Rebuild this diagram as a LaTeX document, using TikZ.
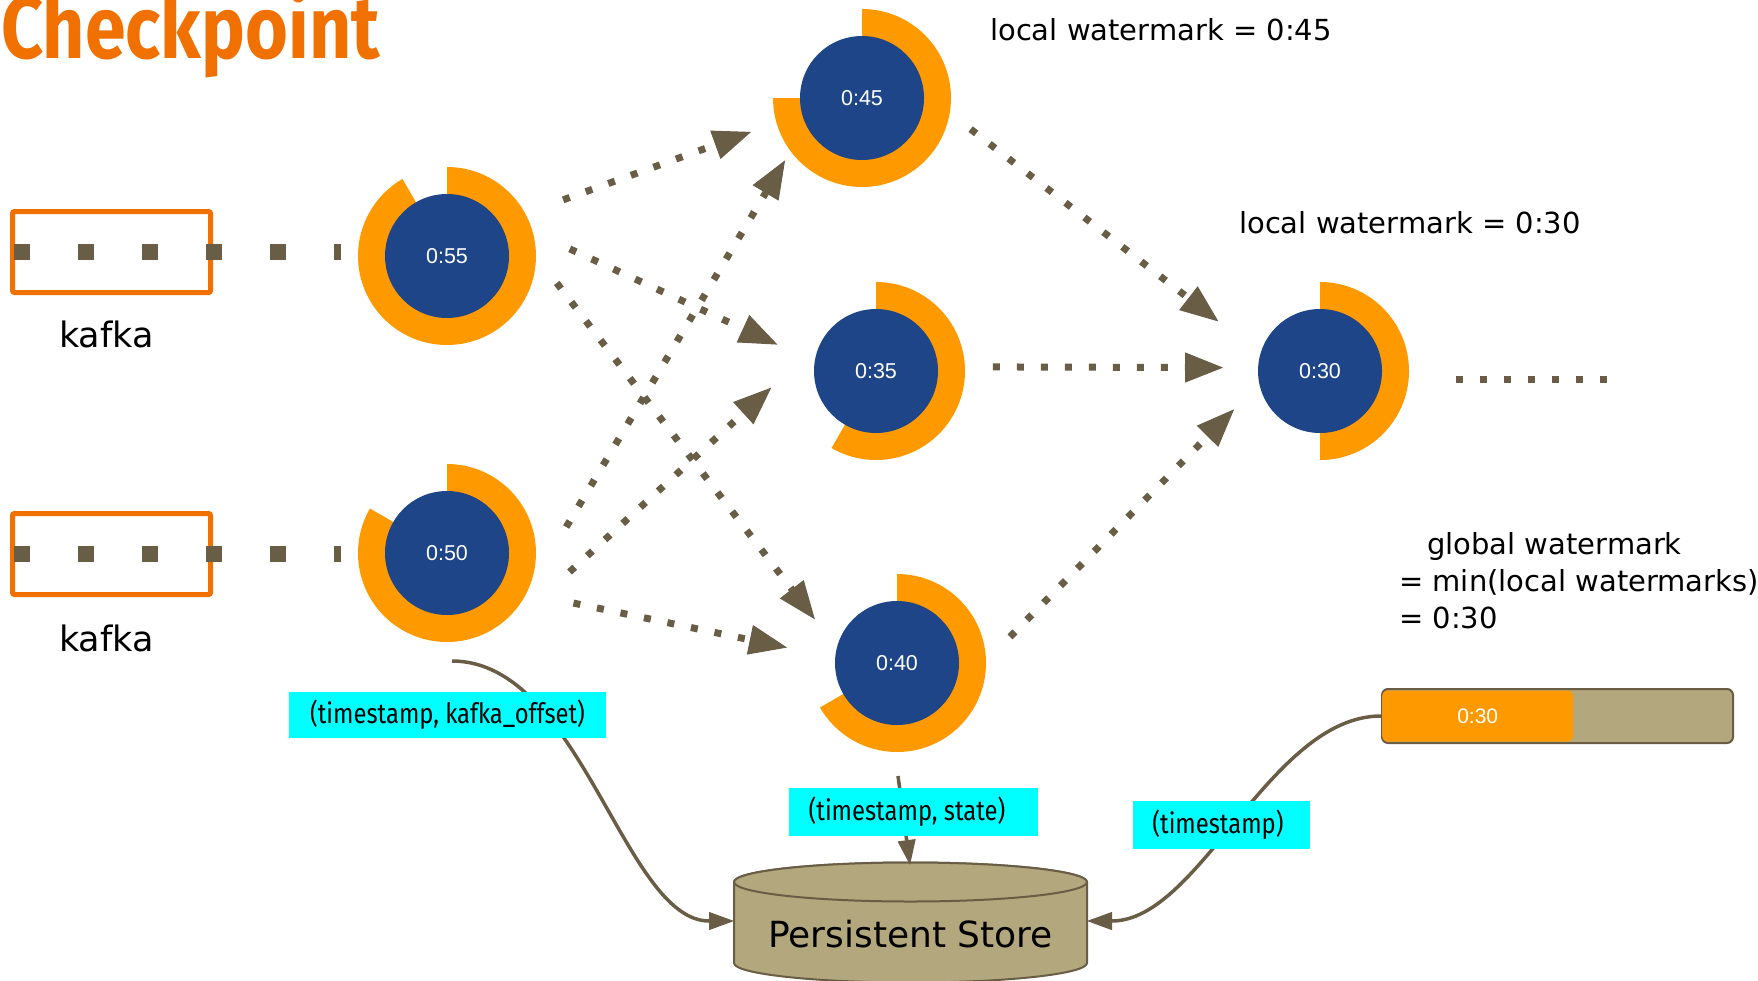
\documentclass[tikz,border=0pt]{standalone}
\usepackage{fontspec}
\usepackage{graphicx}
\usetikzlibrary{arrows.meta,calc}
\newfontfamily\comicfont{DejaVu Sans}
\newfontfamily\numfont{Liberation Sans}
\newfontfamily\tagfont{Fira Sans}
\definecolor{ringorange}{RGB}{255,153,0}
\definecolor{discblue}{RGB}{29,69,135}
\definecolor{kafkaorange}{RGB}{240,112,0}
\definecolor{flowbrown}{RGB}{105,93,70}
\definecolor{storetan}{RGB}{179,167,125}
\definecolor{tagcyan}{RGB}{0,255,255}
\newcommand\narrowtext[1]{\scalebox{0.85}[1]{#1}}
% orange progress ring: clockwise from 12 o'clock, 6 degrees per minute
\newcommand\wmring[2]{%
  \fill[ringorange] ($(#1)+(90:89)$) arc[start angle=90, end angle={90-6*#2}, radius=89]
    -- ($(#1)+({90-6*#2}:50)$) arc[start angle={90-6*#2}, end angle=90, radius=50] -- cycle;}
\begin{document}
\begin{tikzpicture}[x=1pt,y=1pt,
  disc/.style={circle, fill=discblue, minimum size=124pt, inner sep=0pt, text=white,
    font=\numfont\fontsize{21.5}{24}\selectfont},
  flow/.style={draw=flowbrown, line width=7pt, dash pattern=on 7pt off 17pt,
    -{Triangle[length=38pt,width=30pt,line width=1pt]}},
  dotrun/.style={draw=flowbrown, line width=7pt, dash pattern=on 7pt off 17pt},
  feed/.style={draw=flowbrown, line width=16pt, dash pattern=on 16pt off 48pt},
  kafkabox/.style={draw=kafkaorange, line width=5pt, minimum width=198pt, minimum height=81pt,
    inner sep=0pt, rounded corners=2pt},
  link/.style={draw=flowbrown, line width=3.5pt, -{Triangle[length=25pt,width=18pt,line width=1pt]}},
  tag/.style={fill=tagcyan, minimum height=48pt, inner sep=0pt,
    font=\tagfont\fontsize{28}{30}\selectfont},
  comic/.style={inner sep=0pt, font=\comicfont\fontsize{29}{37}\selectfont},
]
\useasboundingbox (0,0) rectangle (1758,-980);

% title
\node[anchor=base west, inner sep=0pt, text=kafkaorange,
  font=\tagfont\bfseries\fontsize{88}{88}\selectfont] (title) at (1,-58) {\scalebox{0.835}[1]{Checkpoint}};

% kafka sources
\node[kafkabox] (k1) at (111.5,-252) {};
\node[kafkabox] (k2) at (111.5,-554) {};
\coordinate (f1) at (341,-252);
\coordinate (f2) at (341,-554);
\draw[feed] ($(k1.west)+(3.5,0)$) -- (f1);
\draw[feed] ($(k2.west)+(3.5,0)$) -- (f2);
\node[anchor=base, inner sep=0pt, font=\comicfont\fontsize{35}{40}\selectfont] (k1label) at (106.5,-347) {kafka};
\node[anchor=base, inner sep=0pt, font=\comicfont\fontsize{35}{40}\selectfont] (k2label) at (106.5,-651) {kafka};

% operator positions
\coordinate (p55) at (447,-256);
\coordinate (p50) at (447,-553);
\coordinate (p45) at (862,-98);
\coordinate (p35) at (876,-371);
\coordinate (p40) at (897,-663);
\coordinate (p30) at (1320,-371);

\wmring{p55}{55}
\wmring{p50}{50}
\wmring{p45}{45}
\wmring{p35}{35}
\wmring{p40}{40}
\wmring{p30}{30}

\node[disc] (c55) at (p55) {0:55};
\node[disc] (c50) at (p50) {0:50};
\node[disc] (c45) at (p45) {0:45};
\node[disc] (c35) at (p35) {0:35};
\node[disc] (c40) at (p40) {0:40};
\node[disc] (c30) at (p30) {0:30};

% dataflow between operators
\draw[flow] ($(c55.center)+(25.8:129)$) -- ($(c45.center)+(197:116)$);
\draw[flow] ($(c55.center)+(3.3:123)$) -- ($(c35.center)+(165:102)$);
\draw[flow] ($(c55.center)+(-13.8:113)$) -- ($(c40.center)+(152:93)$);
\draw[flow] ($(c50.center)+(12.3:122)$) -- ($(c45.center)+(219:99)$);
\draw[flow] ($(c50.center)+(-8.8:124)$) -- ($(c35.center)+(189:106)$);
\draw[flow] ($(c50.center)+(-21.6:136)$) -- ($(c40.center)+(172:111)$);
\draw[flow] ($(c45.center)+(-16:113)$) -- ($(c30.center)+(154:113)$);
\draw[flow] ($(c35.center)+(2:117)$) -- ($(c30.center)+(178:97)$);
\draw[flow] ($(c40.center)+(13:116)$) -- ($(c30.center)+(204:94)$);
\coordinate (tail) at (1613,-379);
\draw[dotrun] ($(c30.center)+(136,-8)$) -- (tail);

% watermark notes
\node[comic, anchor=base west] (wm45) at (990,-40) {local watermark = 0:45};
\node[comic, anchor=base west] (wm30) at (1239,-233) {local watermark = 0:30};
\node[comic, anchor=base west, align=left] (gwm) at (1399,-628)
  {\hspace*{28pt}global watermark\\= min(local watermarks)\\= 0:30};

% global watermark bar
\node[draw=flowbrown, line width=2pt, fill=storetan, rounded corners=6pt,
  minimum width=351pt, minimum height=54pt, inner sep=0pt] (gbar) at (1557.5,-716) {};
\node[fill=ringorange, rounded corners=5pt, minimum width=191pt, minimum height=51pt,
  inner sep=0pt, anchor=west, text=white, font=\numfont\fontsize{21}{24}\selectfont]
  (gfill) at ($(gbar.west)+(1,0)$) {0:30};

% persistent store
\coordinate (storec) at (910.5,-934);
\filldraw[fill=storetan, draw=flowbrown, line width=2pt]
  ($(storec)+(-176.5,52)$) -- ($(storec)+(-176.5,-29)$)
  arc[start angle=180, end angle=360, x radius=176.5, y radius=19.5]
  -- ($(storec)+(176.5,52)$) arc[start angle=0, end angle=180, x radius=176.5, y radius=19.5] -- cycle;
\filldraw[fill=storetan, draw=flowbrown, line width=2pt]
  ($(storec)+(0,52)$) ellipse[x radius=176.5, y radius=19.5];
\node[inner sep=0pt, minimum width=353pt, font=\comicfont\fontsize{36}{40}\selectfont]
  (store) at (storec) {Persistent Store};

% checkpoint writes
\draw[link] ($(c50.center)+(5,-108)$) .. controls (581,-661) and (624,-921) .. ($(store.center)+(-176.5,13)$);
\draw[link] ($(c40.center)+(1,-113)$) -- ($(store.center)+(-0.5,69)$);
\draw[link] (gbar.west) .. controls (1270,-716) and (1200,-921) .. ($(store.center)+(176.5,13)$);

\node[tag, minimum width=317pt, minimum height=46pt] (tagoffset) at (447.5,-715) {\narrowtext{(timestamp, kafka\_offset)}};
\node[tag, minimum width=249pt] (tagstate) at (913.5,-811.5) {\narrowtext{(timestamp, state)}\hspace*{13pt}};
\node[tag, minimum width=177pt] (tagts) at (1221.5,-824.5) {\narrowtext{(timestamp)}\hspace*{7pt}};
\end{tikzpicture}
\end{document}
